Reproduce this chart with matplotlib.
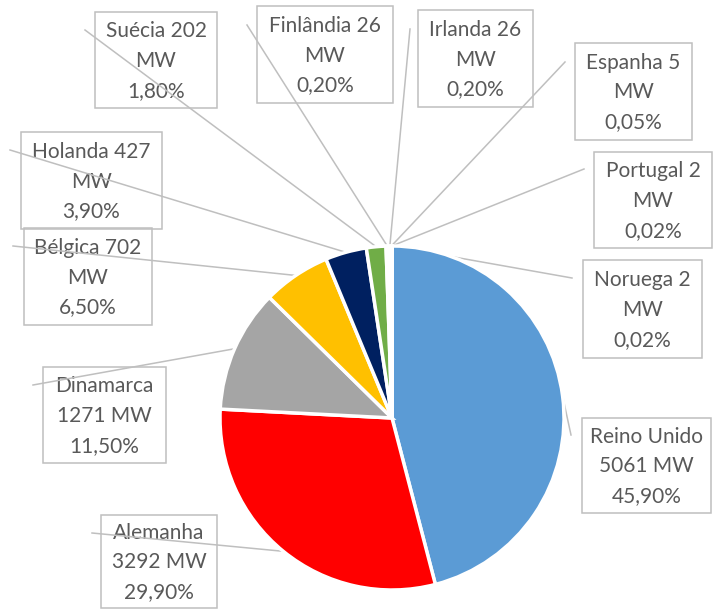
import numpy as np
import matplotlib
matplotlib.use("Agg")
import matplotlib.pyplot as plt
from matplotlib.patches import Rectangle

# data
countries = ["Reino Unido", "Alemanha", "Dinamarca", "Bélgica", "Holanda", "Suécia",
             "Finlândia", "Irlanda", "Espanha", "Portugal", "Noruega"]
mw = [5061, 3292, 1271, 702, 427, 202, 26, 26, 5, 2, 2]
pct_labels = ["45,90%", "29,90%", "11,50%", "6,50%", "3,90%", "1,80%",
              "0,20%", "0,20%", "0,05%", "0,02%", "0,02%"]
label_text = [
    "Reino Unido\n5061 MW\n45,90%",
    "Alemanha\n3292 MW\n29,90%",
    "Dinamarca\n1271 MW\n11,50%",
    "Bélgica 702\nMW\n6,50%",
    "Holanda 427\nMW\n3,90%",
    "Suécia 202\nMW\n1,80%",
    "Finlândia 26\nMW\n0,20%",
    "Irlanda 26\nMW\n0,20%",
    "Espanha 5\nMW\n0,05%",
    "Portugal 2\nMW\n0,02%",
    "Noruega 2\nMW\n0,02%",
]
colors = ["#5B9BD5", "#FF0000", "#A5A5A5", "#FFC000", "#002060", "#70AD47",
          "#264478", "#9E480E", "#636363", "#997300", "#255E91"]

# layout (image pixel coords, y from top)
W, H = 713, 610
cx, cy, R = 392, 418, 172
boxes = [
    (582, 418, 711, 513),
    (101, 515, 217, 608),
    (43, 367, 166, 463),
    (24, 228, 152, 325),
    (21, 132, 162, 229),
    (95, 12, 217, 108),
    (257, 6, 393, 103),
    (418, 10, 533, 107),
    (575, 43, 692, 140),
    (594, 152, 712, 248),
    (583, 260, 702, 358),
]
line_ends = [(571, 435), (92, 533), (33, 385), (13, 246), (10, 150), (85, 30),
             (247, 25), (410, 29), (565, 62), (584, 169), (572, 278)]

fig = plt.figure(figsize=(W / 100, H / 100), dpi=100)
ax = fig.add_axes([0, 0, 1, 1])

wedges, _ = ax.pie(mw, colors=colors, startangle=90, counterclock=False,
                   center=(cx, H - cy), radius=R,
                   wedgeprops=dict(edgecolor="white", linewidth=2.5))
for w in wedges:
    w.set_zorder(3)

ax.set_xlim(0, W)
ax.set_ylim(0, H)
ax.set_aspect("equal")
ax.axis("off")

grey = "#BFBFBF"
for w, (lx, ly), (x0, y0, x1, y1), txt in zip(wedges, line_ends, boxes, label_text):
    ang = np.deg2rad((w.theta1 + w.theta2) / 2)
    px = cx + R * np.cos(ang)
    py = (H - cy) + R * np.sin(ang)
    ax.plot([px, lx], [py, H - ly], color=grey, lw=1.1, zorder=2)
    ax.add_patch(Rectangle((x0, H - y1), x1 - x0, y1 - y0, fill=False,
                           edgecolor=grey, lw=1.1, zorder=1))
    ax.text((x0 + x1) / 2, H - (y0 + y1) / 2 - 1, txt, ha="center", va="center",
            fontsize=15, color="#595959", family="Lato", linespacing=1.62, zorder=1)

fig.savefig("out.png", dpi=100)
